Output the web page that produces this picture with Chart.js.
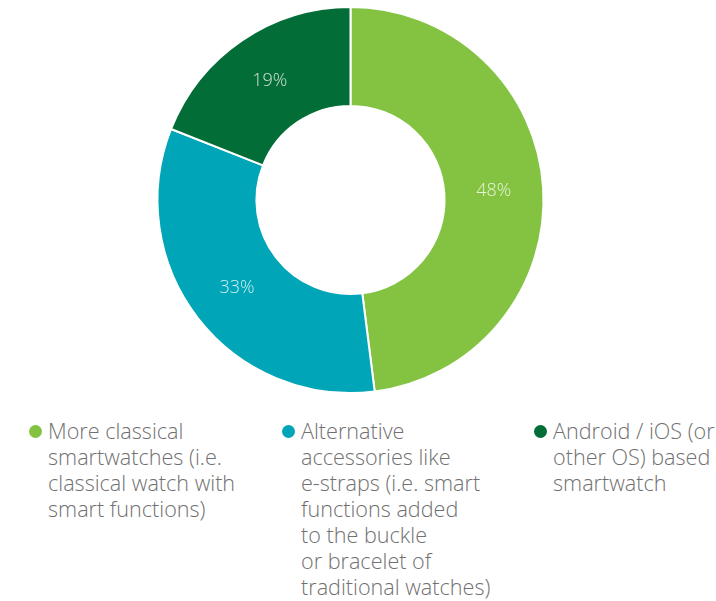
<!DOCTYPE html>
<html>
<head>
<meta charset="utf-8">
<script src="https://cdn.jsdelivr.net/npm/chart.js@4"></script>
<style>
  body { margin: 0; background: #fff; font-family: "Open Sans", sans-serif; }
  #wrap { position: relative; width: 716px; height: 601px; }
  #chartBox { position: absolute; left: 0; top: 0; width: 716px; height: 400px; }
  .item { position: absolute; top: 418px; font-size: 21.6px; line-height: 26px; color: #707070; font-weight: 300; white-space: nowrap; }
  .dot { position: absolute; left: -19px; top: 7px; width: 13px; height: 13px; border-radius: 50%; }
</style>
</head>
<body>
<div id="wrap">
  <div id="chartBox"><canvas id="donut"></canvas></div>
  <div id="legend"></div>
</div>
<script>
const categories = [
    "More classical\nsmartwatches (i.e.\nclassical watch with\nsmart functions)",
    "Alternative\naccessories like\ne-straps (i.e. smart\nfunctions added\nto the buckle\nor bracelet of\ntraditional watches)",
    "Android / iOS (or\nother OS) based\nsmartwatch"
];
const shares = [48, 33, 19];
const colors = ["#84c341", "#00a6b8", "#036d37"];
const legendX = [48, 301, 553];

// legend, wrapped like the original
const legend = document.getElementById("legend");
categories.forEach((c, i) => {
    const div = document.createElement("div");
    div.className = "item";
    div.style.left = legendX[i] + "px";
    const dot = document.createElement("span");
    dot.className = "dot";
    dot.style.background = colors[i];
    div.appendChild(dot);
    c.split("\n").forEach((line, j) => {
        if (j > 0) div.appendChild(document.createElement("br"));
        div.appendChild(document.createTextNode(line));
    });
    legend.appendChild(div);
});

// percentage labels inside the slices
const sliceLabels = {
    id: "sliceLabels",
    afterDatasetsDraw(chart) {
        const ctx = chart.ctx;
        const meta = chart.getDatasetMeta(0);
        ctx.save();
        ctx.font = "300 18px 'Open Sans'";
        ctx.fillStyle = "rgba(255,255,255,0.8)";
        ctx.textAlign = "center";
        ctx.textBaseline = "middle";
        meta.data.forEach((arc, i) => {
            const p = arc.tooltipPosition();
            ctx.fillText(shares[i] + "%", p.x, p.y);
        });
        ctx.restore();
    }
};

new Chart(document.getElementById("donut"), {
    type: "doughnut",
    data: {
        labels: categories,
        datasets: [{
            data: shares,
            backgroundColor: colors,
            borderColor: "#ffffff",
            borderWidth: 2
        }]
    },
    options: {
        responsive: true,
        maintainAspectRatio: false,
        animation: false,
        radius: 193,
        cutout: 97,
        layout: { padding: { left: 0, right: 15, top: 0, bottom: 0 } },
        plugins: {
            legend: { display: false },
            tooltip: { enabled: false }
        }
    },
    plugins: [sliceLabels]
});
</script>
</body>
</html>
